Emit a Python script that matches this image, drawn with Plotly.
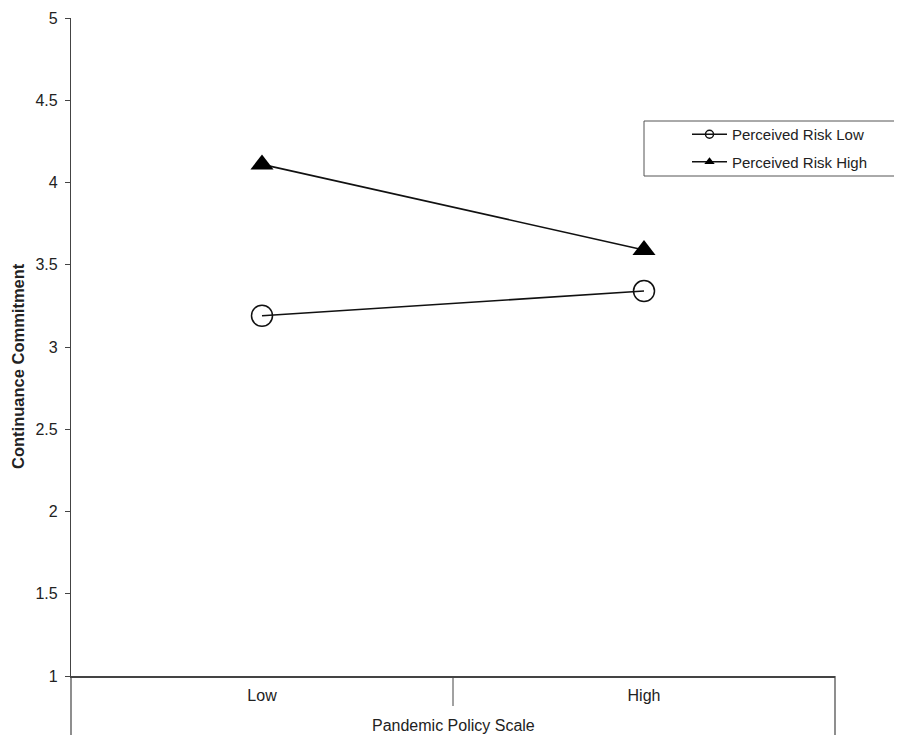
import plotly.graph_objects as go

categories = ["Low", "High"]
cat_pos = [0.5, 1.5]
risk_low = [3.19, 3.34]
risk_high = [4.11, 3.59]
series_names = ["Perceived Risk Low", "Perceived Risk High"]
y_ticks = [1, 1.5, 2, 2.5, 3, 3.5, 4, 4.5, 5]

FONT = "Liberation Sans, Arial, sans-serif"
TXT = "#222222"
AX = "#444444"

# the page body adds an 8px offset; compensate so the plot lands at target pixels
OFF = 8
W, H = 902 - OFF, 735 - OFF
L, R, T = 71 - OFF, 67, 18 - OFF
ph = 658
B = H - T - ph
pw = W - L - R

def py(pix):
    # target screen pixel y -> paper y
    return (T + OFF + ph - pix) / ph

def px(pix):
    return (pix - (L + OFF)) / pw

fig = go.Figure()

fig.add_trace(go.Scatter(
    x=cat_pos, y=risk_low, mode="lines+markers", showlegend=False,
    line=dict(color="#111111", width=1.6),
    marker=dict(symbol="circle-open", size=21, color="#111111", line=dict(width=1.5)),
))
fig.add_trace(go.Scatter(
    x=cat_pos, y=risk_high, mode="lines+markers", showlegend=False,
    line=dict(color="#111111", width=1.6),
    marker=dict(symbol="triangle-up", size=20, color="#000000"),
))
fig.add_trace(go.Scatter(
    x=[None], y=[None], mode="lines+markers", name=series_names[0], legendgroup="a",
    line=dict(color="#111111", width=1.6),
    marker=dict(symbol="circle-open", size=8, color="#111111", line=dict(width=1.5)),
))
fig.add_trace(go.Scatter(
    x=[None], y=[None], mode="lines+markers", name=series_names[1], legendgroup="b",
    line=dict(color="#111111", width=1.6),
    marker=dict(symbol="triangle-up", size=9, color="#000000"),
))

shapes = [
    dict(type="line", xref="paper", yref="paper", x0=0, x1=0, y0=0, y1=-0.15,
         line=dict(color=AX, width=1.2)),
    dict(type="line", xref="paper", yref="paper", x0=1, x1=1, y0=0, y1=-0.15,
         line=dict(color=AX, width=1.2)),
    dict(type="line", xref="paper", yref="paper", x0=0.5, x1=0.5, y0=0, y1=py(706),
         line=dict(color=AX, width=1)),
    dict(type="rect", xref="paper", yref="paper",
         x0=px(644), x1=px(915), y0=py(176), y1=py(121),
         line=dict(color="#555555", width=1), fillcolor="rgba(0,0,0,0)", layer="below"),
]

annotations = [
    dict(text="<b>Continuance Commitment</b>", textangle=-90, xref="paper", yref="paper",
         x=px(18), y=py(366), xanchor="center", yanchor="middle",
         showarrow=False, font=dict(family=FONT, size=16.5, color=TXT)),
    dict(text="Pandemic Policy Scale", xref="paper", yref="paper",
         x=0.5, y=py(725), xanchor="center", yanchor="middle",
         showarrow=False, font=dict(family=FONT, size=16, color=TXT)),
]

fig.update_layout(
    width=W, height=H,
    margin=dict(l=L, r=R, t=T, b=B, autoexpand=False),
    paper_bgcolor="white", plot_bgcolor="white",
    font=dict(family=FONT, size=16, color=TXT),
    xaxis=dict(range=[0, 2], tickvals=cat_pos, ticktext=categories, ticks="",
               showline=True, linecolor=AX, linewidth=1.5, showgrid=False, zeroline=False,
               tickfont=dict(size=16, color=TXT), ticklabelstandoff=4),
    yaxis=dict(range=[1, 5], tickvals=y_ticks, ticks="outside", ticklen=5, tickcolor=AX,
               showline=True, linecolor=AX, linewidth=1.2, showgrid=False, zeroline=False,
               tickfont=dict(size=16, color=TXT), ticklabelstandoff=4),
    legend=dict(x=px(687), y=py(118), xanchor="left", yanchor="top",
                bgcolor="rgba(0,0,0,0)", borderwidth=0,
                font=dict(family=FONT, size=15, color=TXT),
                traceorder="grouped", tracegroupgap=5, itemwidth=35),
    shapes=shapes,
    annotations=annotations,
)

fig.write_html("out.html")
